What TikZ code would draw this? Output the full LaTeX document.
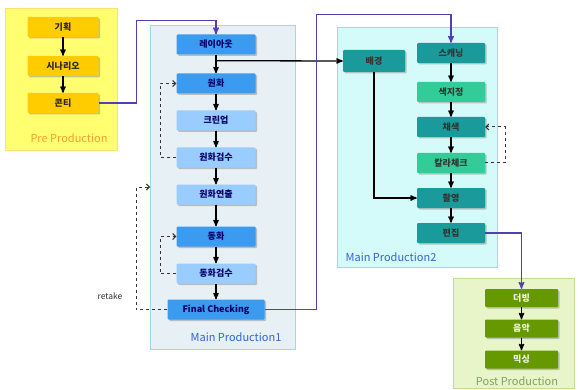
\documentclass[tikz,border=0pt]{standalone}
\usepackage{fontspec}
\setmainfont{Noto Sans CJK KR}
\usetikzlibrary{shapes,arrows,arrows.meta,shadows,positioning}

\definecolor{preback}{HTML}{FFFF70}
\definecolor{preline}{HTML}{FFE070}
\definecolor{prebox}{HTML}{FFCC00}
\definecolor{pretext}{HTML}{F0A030}
\definecolor{oneback}{HTML}{E6F0F5}
\definecolor{oneline}{HTML}{A0D8E8}
\definecolor{bluedark}{HTML}{3A9BF0}
\definecolor{bluelight}{HTML}{99CCFF}
\definecolor{twoback}{HTML}{D5FAFA}
\definecolor{twoline}{HTML}{99DDDD}
\definecolor{tealdark}{HTML}{1A9A9A}
\definecolor{teallight}{HTML}{33CC99}
\definecolor{postback}{HTML}{E8F5C8}
\definecolor{postline}{HTML}{C0DD90}
\definecolor{postbox}{HTML}{669900}
\definecolor{posttext}{HTML}{80A060}
\definecolor{jump}{HTML}{5040B0}
\definecolor{phase}{HTML}{3366CC}

\begin{document}
\begin{tikzpicture}[x=1pt,y=-1pt,>=stealth',node distance=37pt]
\tikzstyle{every node}=[font=\fontsize{9}{10}\selectfont\bfseries]
\tikzstyle{task}=[rectangle, rounded corners=1pt, minimum height=20pt, inner sep=0pt,
  drop shadow={shadow xshift=1.5pt,shadow yshift=-1.5pt,fill=black!45}]
\tikzstyle{flow}=[->, line width=1.3pt, black]
\tikzstyle{jumpline}=[->, line width=1.4pt, jump]
\tikzstyle{redo}=[-{Straight Barb[length=3pt,width=6pt]}, dashed, line width=1pt, black!80]
\tikzstyle{phasename}=[font=\fontsize{11}{12}\selectfont]

\useasboundingbox (0,0) rectangle (580,390);

% panels
\draw[fill=preback, draw=preline] (5,8) rectangle (117,150);
\draw[fill=oneback, draw=oneline] (150,25) rectangle (295,349);
\draw[fill=twoback, draw=twoline] (337,27) rectangle (497,267);
\draw[fill=postback, draw=postline] (453,278) rectangle (574,388);

\node[phasename, pretext] (prename) at (69,138) {Pre Production};
\node[phasename, phase] (onename) at (236,337) {Main Production1};
\node[phasename, phase] (twoname) at (391,257) {Main Production2};
\node[phasename, posttext] (postname) at (517,381) {Post Production};

% pre production
\tikzstyle{pre}=[task, fill=prebox, minimum width=71pt, text=black!85]
\node[pre] (plan) at (63,27) {기획};
\node[pre][below of=plan, node distance=39pt] (scenario) {시나리오};
\node[pre][below of=scenario] (conti) {콘티};

% main production 1
\tikzstyle{one}=[task, minimum width=79pt, text=blue!40!black]
\node[one, fill=bluedark] (layout) at (216,44.5) {레이아웃};
\node[one, fill=bluedark][below of=layout, node distance=39pt] (keyart) {원화};
\node[one, fill=bluelight][below of=keyart] (cleanup) {크린업};
\node[one, fill=bluelight][below of=cleanup] (keycheck) {원화검수};
\node[one, fill=bluelight][below of=keycheck] (keydirect) {원화연출};
\node[one, fill=bluedark][below of=keydirect, node distance=42pt] (inbetween) {동화};
\node[one, fill=bluelight][below of=inbetween] (inbcheck) {동화검수};
\node[one, fill=bluedark, minimum width=97pt][below of=inbcheck, node distance=36pt] (final) {Final Checking};
\coordinate (retakeend) at (150,187);
\node[font=\fontsize{8.5}{9}\selectfont, black!80] (retake) at (110,296) {retake};

% main production 2
\tikzstyle{two}=[task, minimum width=68pt, text=black!80]
\node[two, fill=tealdark, minimum width=62pt, minimum height=22pt] (backgr) at (374,61) {배경};
\node[two, fill=tealdark] (scan) at (451,53) {스캐닝};
\node[two, fill=teallight][below of=scan, node distance=39pt] (colorset) {색지정};
\node[two, fill=tealdark][below of=colorset, node distance=35pt] (paint) {채색};
\node[two, fill=teallight][below of=paint, node distance=36pt] (colorcheck) {칼라체크};
\node[two, fill=tealdark][below of=colorcheck, node distance=35pt] (shoot) {촬영};
\node[two, fill=tealdark][below of=shoot, node distance=35pt] (edit) {편집};

% post production
\tikzstyle{post}=[task, fill=postbox, minimum width=73pt, minimum height=18pt, text=white!90!postbox]
\node[post] (dub) at (521.5,298) {더빙};
\node[post][below of=dub, node distance=30.5pt] (music) {음악};
\node[post][below of=music, node distance=31pt] (mixing) {믹싱};

% flows
\draw[flow] (plan) -- (scenario);
\draw[flow] (scenario) -- (conti);
\draw[flow] (layout) -- (keyart);
\draw[flow] (keyart) -- (cleanup);
\draw[flow] (cleanup) -- (keycheck);
\draw[flow] (keycheck) -- (keydirect);
\draw[flow] (keydirect) -- (inbetween);
\draw[flow] (inbetween) -- (inbcheck);
\draw[flow] (inbcheck) -- (final);
\draw[flow] ([yshift=-6pt]layout.south) -- (backgr.west);
\draw[flow] (scan) -- (colorset);
\draw[flow] (colorset) -- (paint);
\draw[flow] (paint) -- (colorcheck);
\draw[flow] (colorcheck) -- (shoot);
\draw[flow] (shoot) -- (edit);
\draw[flow] (backgr.south) |- (shoot.west);
\draw[flow] (dub) -- (music);
\draw[flow] (music) -- (mixing);

% hand-overs between stages
\draw[jumpline] (conti.east) -- ++(38,0) |- ([yshift=14pt]layout.north) -- (layout.north);
\draw[jumpline] (final.east) -- ++(52,0) |- ([yshift=28pt]scan.north) -- (scan.north);
\draw[jumpline] (edit.east) -| (dub.north);

% checks sent back
\draw[redo] (keycheck.west) -- ++(-16,0) |- (keyart.west);
\draw[redo] (inbcheck.west) -- ++(-16,0) |- (inbetween.west);
\draw[redo] (colorcheck.east) -- ++(20,0) |- (paint.east);
\draw[redo] (final.west) -- ++(-31,0) |- (retakeend);
\end{tikzpicture}
\end{document}
